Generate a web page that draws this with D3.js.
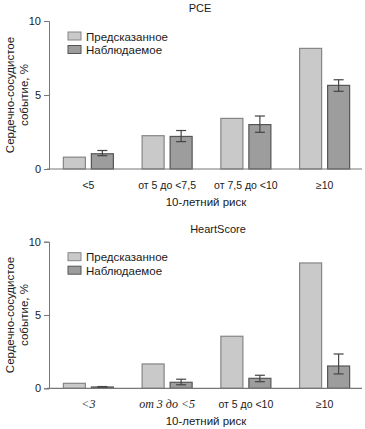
<!DOCTYPE html>
<html>
<head>
<meta charset="utf-8">
<script src="https://cdn.jsdelivr.net/npm/d3@7"></script>
<style>
  body { margin: 0; background: #fff; }
  text { font-family: Arial, "Liberation Sans", sans-serif; fill: #1a1a1a; }
</style>
</head>
<body>
<svg id="chart" width="365" height="429"></svg>
<script>
// series names (legend)
var seriesNames = ["Предсказанное", "Наблюдаемое"];
var yTicks = [0, 5, 10];

// PCE panel
var pceTitle = "PCE";
var pceCategories = ["<5", "от 5 до <7,5", "от 7,5 до <10", "≥10"];
var pcePredicted = [0.8, 2.25, 3.42, 8.15];
var pceObserved = [1.03, 2.2, 3.0, 5.65];
var pceObsLow = [0.9, 1.85, 2.48, 5.25];
var pceObsHigh = [1.25, 2.6, 3.58, 6.03];

// HeartScore panel
var hsTitle = "HeartScore";
var hsCategories = ["<3", "от 3 до <5", "от 5 до <10", "≥10"];
var hsItalic = [true, true, false, false];
var hsPredicted = [0.34, 1.66, 3.55, 8.55];
var hsObserved = [0.09, 0.41, 0.68, 1.52];
var hsObsLow = [0.06, 0.24, 0.45, 0.98];
var hsObsHigh = [0.12, 0.62, 0.89, 2.34];

var fills = ["#c9c9c9", "#9d9d9d"];
var strokes = ["#858585", "#555555"];

var svg = d3.select("#chart");

function drawPanel(opt) {
    var g = svg.append("g");
    var x0 = d3.scaleBand().domain(opt.categories)
	.range([49, 364]).paddingInner(0.365).paddingOuter(0.1825);
    var x1 = d3.scaleBand().domain(seriesNames)
	.range([0, x0.bandwidth()]).paddingInner(0.214);
    var y = d3.scaleLinear().domain([0, 10]).range([opt.bottom, opt.top]);

    var rows = opt.categories.map(function(c, i) {
	return {cat: c, vals: [opt.pred[i], opt.obs[i]], lo: opt.lo[i], hi: opt.hi[i],
		italic: opt.italic ? opt.italic[i] : false};
    });

    // y axis
    var ya = g.append("g").attr("transform", "translate(49,0)")
	.call(d3.axisLeft(y).tickValues(yTicks).tickSize(5).tickPadding(3));
    ya.select(".domain").attr("stroke", "#777");
    ya.selectAll(".tick line").attr("stroke", "#777");
    ya.selectAll("text").style("font-size", "11px").attr("fill", "#1a1a1a");

    // bars
    var grp = g.selectAll(".grp").data(rows).enter().append("g")
	.attr("transform", function(d) { return "translate(" + x0(d.cat) + ",0)"; });
    grp.selectAll("rect").data(function(d) { return d.vals; }).enter().append("rect")
	.attr("x", function(d, i) { return x1(seriesNames[i]); })
	.attr("y", function(d) { return y(d); })
	.attr("width", x1.bandwidth())
	.attr("height", function(d) { return y(0) - y(d); })
	.attr("fill", function(d, i) { return fills[i]; })
	.attr("stroke", function(d, i) { return strokes[i]; })
	.attr("stroke-width", 1.2);

    // error bars on observed
    var cx = x1(seriesNames[1]) + x1.bandwidth() / 2;
    var eb = grp.append("g").attr("stroke", "#444").attr("stroke-width", 1.2);
    eb.append("line").attr("x1", cx).attr("x2", cx)
	.attr("y1", function(d) { return y(d.lo); }).attr("y2", function(d) { return y(d.hi); });
    eb.append("line").attr("x1", cx - 5).attr("x2", cx + 5)
	.attr("y1", function(d) { return y(d.hi); }).attr("y2", function(d) { return y(d.hi); });
    eb.append("line").attr("x1", cx - 5).attr("x2", cx + 5)
	.attr("y1", function(d) { return y(d.lo); }).attr("y2", function(d) { return y(d.lo); });

    // x axis line
    g.append("line").attr("x1", 47).attr("x2", 362)
	.attr("y1", y(0)).attr("y2", y(0)).attr("stroke", "#777").attr("stroke-width", 1.2);

    // category labels
    g.selectAll(".cat").data(rows).enter().append("text")
	.attr("x", function(d) { return x0(d.cat) + x0.bandwidth() / 2; })
	.attr("y", y(0) + 20)
	.attr("text-anchor", "middle")
	.style("font-size", function(d) { return d.italic ? "12px" : "10.5px"; })
	.style("font-family", function(d) { return d.italic ? "'Liberation Serif', 'DejaVu Serif', serif" : null; })
	.style("font-style", function(d) { return d.italic ? "italic" : "normal"; })
	.attr("fill", function(d) { return d.italic ? "#444" : "#1a1a1a"; })
	.text(function(d) { return d.cat; });

    // axis title
    g.append("text").attr("x", 206).attr("y", y(0) + 37)
	.attr("text-anchor", "middle").style("font-size", "11.5px").text("10-летний риск");

    // panel title
    g.append("text").attr("x", opt.titleX).attr("y", opt.top - 9)
	.attr("text-anchor", "middle").style("font-size", "11px").text(opt.title);

    // y label
    var midY = (opt.top + opt.bottom) / 2;
    var yl = g.append("text").attr("transform", "translate(14," + midY + ") rotate(-90)")
	.attr("text-anchor", "middle").style("font-size", "11.5px");
    yl.append("tspan").attr("x", 0).attr("dy", 0).text("Сердечно-сосудистое");
    yl.append("tspan").attr("x", 0).attr("dy", 14).text("событие, %");

    // legend
    var lg = g.selectAll(".lg").data(seriesNames).enter().append("g")
	.attr("transform", function(d, i) { return "translate(68," + (opt.top + 11 + i * 13.5) + ")"; });
    lg.append("rect").attr("width", 13).attr("height", 8)
	.attr("fill", function(d, i) { return fills[i]; })
	.attr("stroke", function(d, i) { return strokes[i]; });
    lg.append("text").attr("x", 18).attr("y", 8.5).style("font-size", "11.5px")
	.text(function(d) { return d; });
}

drawPanel({title: pceTitle, titleX: 200, top: 21, bottom: 169, categories: pceCategories,
	   pred: pcePredicted, obs: pceObserved, lo: pceObsLow, hi: pceObsHigh});
drawPanel({title: hsTitle, titleX: 218, top: 241.7, bottom: 388.3, categories: hsCategories,
	   pred: hsPredicted, obs: hsObserved, lo: hsObsLow, hi: hsObsHigh, italic: hsItalic});
</script>
</body>
</html>
